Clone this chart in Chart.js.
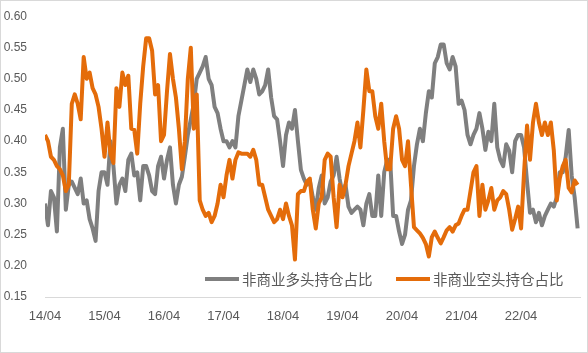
<!DOCTYPE html>
<html>
<head>
<meta charset="utf-8">
<script src="https://cdn.jsdelivr.net/npm/chart.js@4.4.1/dist/chart.umd.min.js"></script>
<style>
  html, body { margin: 0; padding: 0; background: #fff; }
  #wrap { width: 588px; height: 353px; }
</style>
</head>
<body>
<div id="wrap"><canvas id="grafico" width="588" height="353"></canvas></div>
<script>
// ===================== DADOS (~1 ponto a cada 2,6 semanas desde 14/04) =====================
const seriesNames = ["非商业多头持仓占比", "非商业空头持仓占比"];
const tickLabels = ["14/04", "15/04", "16/04", "17/04", "18/04", "19/04", "20/04", "21/04", "22/04"];
const samplesPerYear = 20;
const yMin = 0.15;
const yMax = 0.60;
const yStep = 0.05;

const longShare = [
  0.30, 0.265, 0.32, 0.31, 0.255, 0.39, 0.42, 0.29, 0.33, 0.335,
  0.325, 0.315, 0.34, 0.30, 0.305, 0.275, 0.26, 0.24, 0.32, 0.35,
  0.35, 0.33, 0.40, 0.36, 0.30, 0.33, 0.34, 0.32, 0.37, 0.38,
  0.345, 0.35, 0.305, 0.36, 0.36, 0.345, 0.32, 0.315, 0.36, 0.375,
  0.34, 0.37, 0.39, 0.33, 0.30, 0.33, 0.343, 0.375, 0.41, 0.435,
  0.46, 0.50, 0.51, 0.52, 0.535, 0.50, 0.49, 0.455, 0.445, 0.42,
  0.40, 0.40, 0.39, 0.40, 0.39, 0.44, 0.465, 0.49, 0.515, 0.495,
  0.515, 0.50, 0.475, 0.48, 0.49, 0.515, 0.47, 0.44, 0.435, 0.40,
  0.36, 0.41, 0.43, 0.42, 0.45, 0.40, 0.354, 0.34, 0.33, 0.337,
  0.31, 0.29, 0.325, 0.345, 0.30, 0.31, 0.335, 0.345, 0.375, 0.34,
  0.315, 0.33, 0.295, 0.285, 0.29, 0.295, 0.29, 0.265, 0.30, 0.315,
  0.28, 0.28, 0.345, 0.28, 0.35, 0.37, 0.37, 0.28, 0.28, 0.255,
  0.235, 0.25, 0.29, 0.305, 0.36, 0.395, 0.42, 0.40, 0.445, 0.48,
  0.47, 0.525, 0.535, 0.555, 0.555, 0.525, 0.515, 0.535, 0.52, 0.46,
  0.465, 0.45, 0.41, 0.395, 0.41, 0.42, 0.445, 0.42, 0.386, 0.415,
  0.40, 0.46, 0.39, 0.37, 0.36, 0.395, 0.385, 0.35, 0.40, 0.41,
  0.41, 0.39, 0.335, 0.285, 0.29, 0.27, 0.285, 0.265, 0.28, 0.29,
  0.30, 0.295, 0.31, 0.35, 0.35, 0.375, 0.418, 0.345, 0.31, 0.26
];

const shortShare = [
  0.41, 0.40, 0.375, 0.37, 0.36, 0.355, 0.345, 0.32, 0.33, 0.46,
  0.475, 0.46, 0.435, 0.535, 0.50, 0.51, 0.485, 0.475, 0.455, 0.42,
  0.375, 0.43, 0.38, 0.365, 0.485, 0.455, 0.51, 0.49, 0.505, 0.42,
  0.418, 0.38, 0.46, 0.52, 0.565, 0.565, 0.545, 0.475, 0.49, 0.40,
  0.41, 0.48, 0.54, 0.50, 0.47, 0.42, 0.355, 0.40, 0.50, 0.55,
  0.42, 0.475, 0.305, 0.29, 0.28, 0.285, 0.27, 0.28, 0.30, 0.33,
  0.31, 0.345, 0.37, 0.34, 0.37, 0.382, 0.38, 0.38, 0.38, 0.375,
  0.386, 0.37, 0.33, 0.33, 0.31, 0.29, 0.28, 0.27, 0.275, 0.29,
  0.275, 0.30, 0.28, 0.265, 0.21, 0.315, 0.32, 0.32, 0.335, 0.34,
  0.29, 0.26, 0.30, 0.31, 0.37, 0.38, 0.375, 0.31, 0.262, 0.33,
  0.31, 0.33, 0.36, 0.38, 0.40, 0.43, 0.39, 0.45, 0.515, 0.48,
  0.48, 0.44, 0.42, 0.46, 0.40, 0.355, 0.355, 0.42, 0.44, 0.42,
  0.37, 0.36, 0.40, 0.33, 0.262, 0.257, 0.252, 0.245, 0.235, 0.215,
  0.246, 0.255, 0.245, 0.236, 0.246, 0.257, 0.262, 0.255, 0.265, 0.268,
  0.28, 0.29, 0.29, 0.32, 0.35, 0.36, 0.28, 0.33, 0.29, 0.305,
  0.325, 0.29, 0.305, 0.31, 0.32, 0.315, 0.29, 0.258, 0.275, 0.295,
  0.26, 0.35, 0.425, 0.37, 0.43, 0.46, 0.43, 0.41, 0.43, 0.41,
  0.43, 0.385, 0.305, 0.34, 0.36, 0.37, 0.325, 0.318, 0.337, 0.33
];

const toPoints = (arr) => arr.map((v, i) => ({ x: i / samplesPerYear, y: v }));

// ===================== LEGENDA DENTRO DA ÁREA =====================
const legendaInterna = {
  id: "legendaInterna",
  afterDatasetsDraw(chart) {
    const { ctx, chartArea } = chart;
    const y = chartArea.bottom - 18;
    let x = chartArea.left + 160;
    ctx.save();
    ctx.font = '14.5px "Noto Sans CJK SC"';
    ctx.textBaseline = "middle";
    chart.data.datasets.forEach((ds) => {
      ctx.strokeStyle = ds.borderColor;
      ctx.lineWidth = 4;
      ctx.beginPath();
      ctx.moveTo(x, y);
      ctx.lineTo(x + 34, y);
      ctx.stroke();
      ctx.fillStyle = "#595959";
      ctx.fillText(ds.label, x + 37, y);
      x += 191;
    });
    ctx.restore();
  },
  afterDraw(chart) {
    const ctx = chart.ctx;
    ctx.save();
    ctx.strokeStyle = "#d9d9d9";
    ctx.lineWidth = 1;
    ctx.strokeRect(0.5, 0.5, chart.width - 1, chart.height - 1);
    ctx.restore();
  }
};

new Chart(document.getElementById("grafico"), {
  type: "line",
  data: {
    datasets: [
      {
        label: seriesNames[0],
        data: toPoints(longShare),
        borderColor: "#7f7f7f",
        borderWidth: 4,
        pointRadius: 0,
        borderJoinStyle: "round",
        order: 2
      },
      {
        label: seriesNames[1],
        data: toPoints(shortShare),
        borderColor: "#e46c0a",
        borderWidth: 4,
        pointRadius: 0,
        borderJoinStyle: "round",
        order: 1
      }
    ]
  },
  options: {
    responsive: false,
    animation: false,
    layout: { padding: { top: 16.5, right: 8, left: 0, bottom: 0 } },
    plugins: { legend: { display: false }, tooltip: { enabled: false } },
    scales: {
      x: {
        type: "linear",
        min: 0,
        max: 8.99,
        grid: { display: false, drawTicks: false },
        border: { color: "#d9d9d9", width: 1 },
        ticks: {
          stepSize: 1,
          includeBounds: false,
          autoSkip: false,
          maxRotation: 0,
          padding: 12,
          color: "#595959",
          font: { family: "Liberation Sans", size: 13 },
          callback: (v) => tickLabels[v] ?? ""
        },
        afterFit: (s) => { s.height = 56; s.paddingLeft = 0; s.paddingRight = 0; }
      },
      y: {
        min: yMin,
        max: yMax,
        grid: { display: false, drawTicks: false },
        border: { display: false },
        ticks: {
          stepSize: yStep,
          padding: 18,
          color: "#595959",
          font: { family: "Liberation Sans", size: 12 },
          callback: (v) => v.toFixed(2)
        },
        afterFit: (s) => { s.width = 45; s.paddingTop = 0; s.paddingBottom = 0; }
      }
    }
  },
  plugins: [legendaInterna]
});
</script>
</body>
</html>
